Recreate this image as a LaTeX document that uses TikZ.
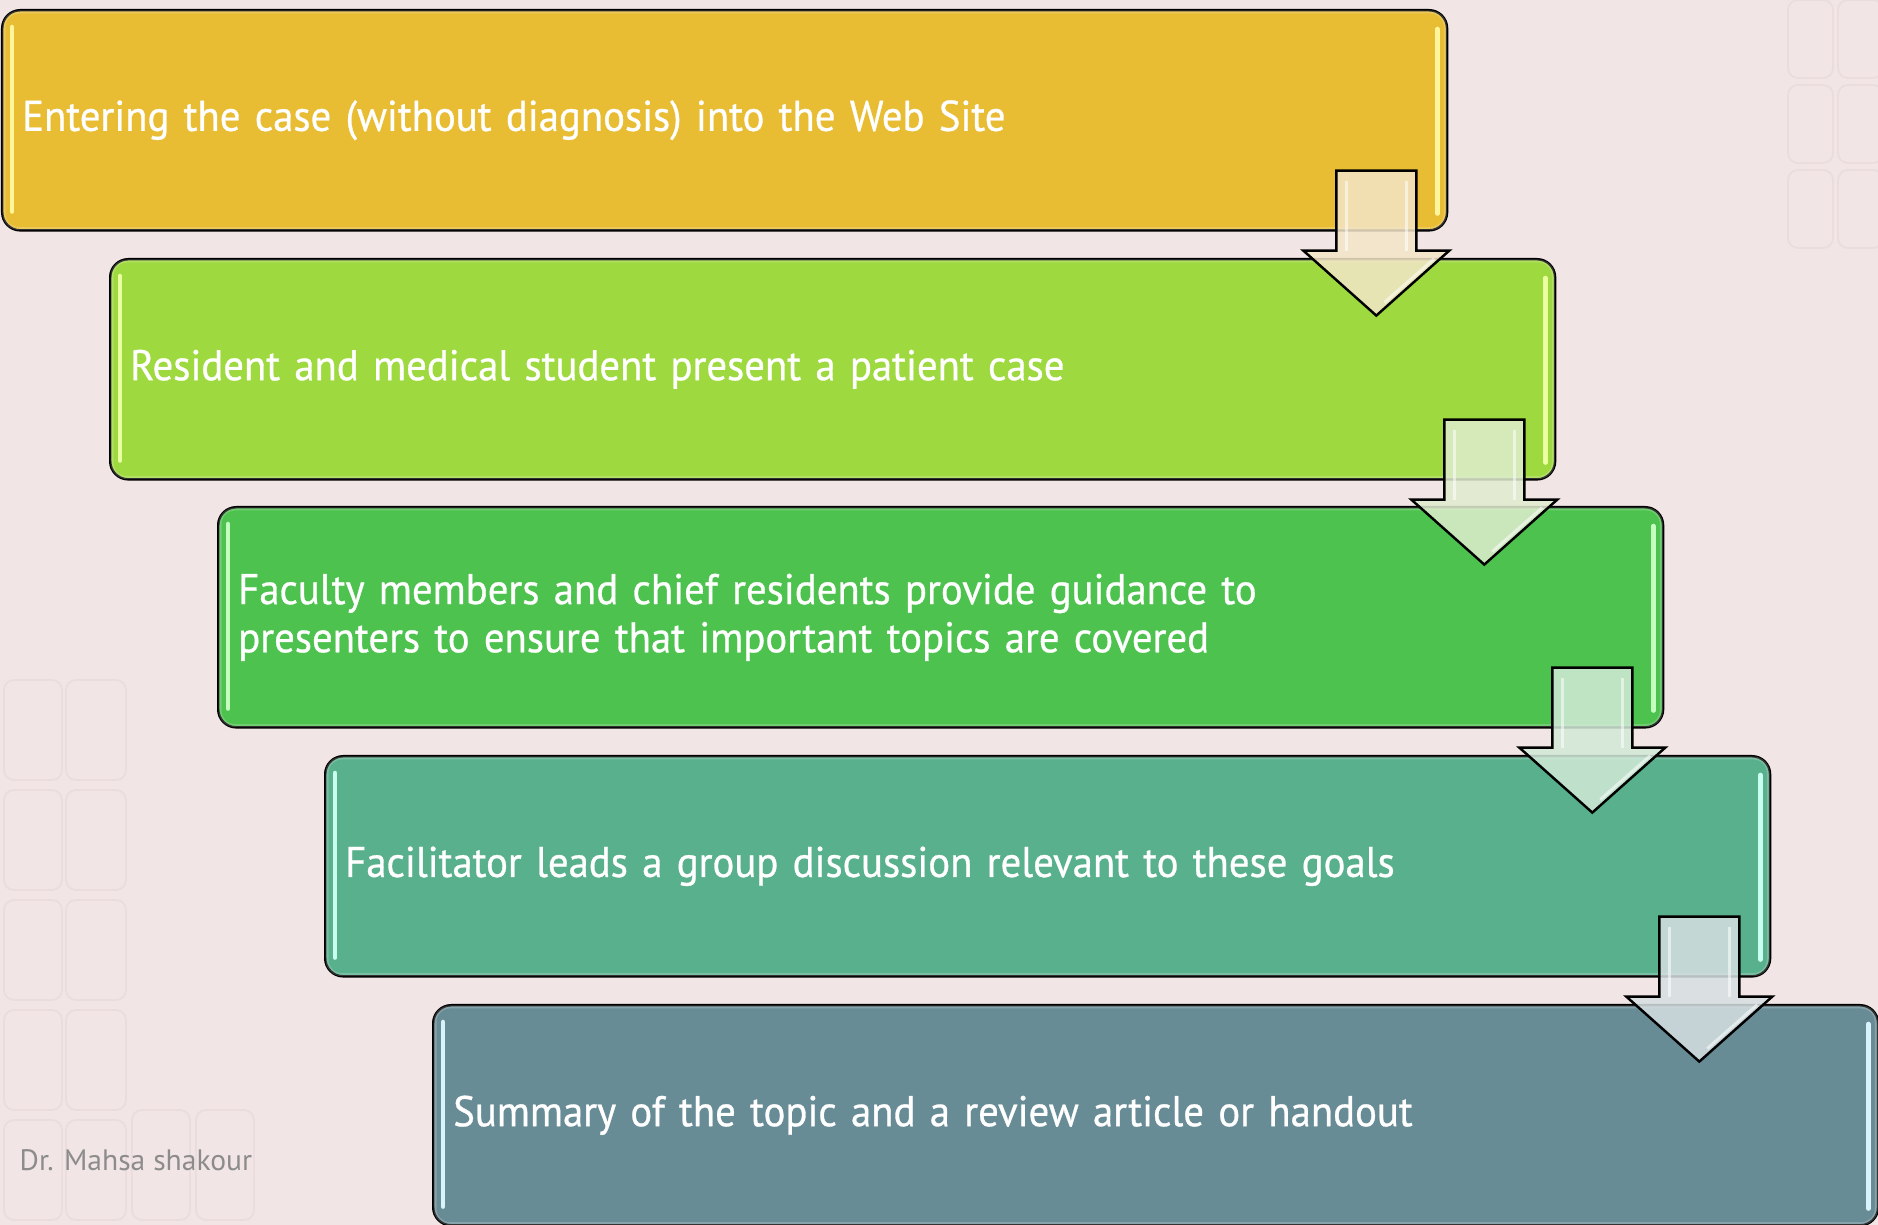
\documentclass[tikz,border=0pt]{standalone}
\usepackage{fontspec}
\setmainfont{PT Sans}
\newfontfamily\stepfont{PT Sans}[FakeStretch=0.95, FakeBold=0.7]
\usetikzlibrary{calc}

\definecolor{bg}{HTML}{F2E5E5}
\definecolor{tile}{HTML}{EBDDDD}
\definecolor{c1}{HTML}{E8BC33}
\definecolor{c2}{HTML}{9ED93F}
\definecolor{c3}{HTML}{4DC24E}
\definecolor{c4}{HTML}{58B08C}
\definecolor{c5}{HTML}{688C96}
\definecolor{h1}{HTML}{FFF59A}
\definecolor{h2}{HTML}{EAFFA0}
\definecolor{h3}{HTML}{C4FFC0}
\definecolor{h4}{HTML}{C8FFF0}
\definecolor{h5}{HTML}{D8F4FA}
\definecolor{t1}{HTML}{F4E6C8}
\definecolor{t2}{HTML}{E0EDCF}
\definecolor{t3}{HTML}{D2EAD8}
\definecolor{t4}{HTML}{D6E0E2}

\tikzset{
  stepbox/.style={draw=black, line width=0.7pt, rounded corners=0.18cm,
    anchor=north west, minimum width=14.44cm, minimum height=2.2cm,
    text width=14.04cm, inner xsep=0.2cm, align=left, text=white,
    font=\stepfont\fontsize{12.2}{13.7}\selectfont},
  shine/.style={line width=0.045cm, line cap=round},
  flowarrow/.style={draw=black, line width=0.7pt, line join=miter, fill opacity=0.85},
  bevel/.style={white, opacity=0.55, line width=0.03cm},
  bgtile/.style={draw=tile, line width=0.5pt, rounded corners=0.1cm}
}

\begin{document}
\begin{tikzpicture}[x=0.01cm, y=-0.01cm]
\useasboundingbox (0,0) rectangle (1878,1225);
\fill[bg] (0,0) rectangle (1878,1225);

% faint tiles in the corners
\foreach \yy in {680,790,900,1010,1120} {
  \draw[bgtile] (4,\yy) rectangle ++(58,100);
  \draw[bgtile] (66,\yy) rectangle ++(60,100);
}
\foreach \xx in {132,196} \draw[bgtile] (\xx,1110) rectangle ++(58,110);
\foreach \yy in {0,85,170} {
  \draw[bgtile] (1788,\yy) rectangle ++(45,78);
  \draw[bgtile] (1838,\yy) rectangle ++(45,78);
}

% the five steps
\node[stepbox, fill=c1] (b1) at (1,9) {Entering the case (without diagnosis) into the Web Site};
\node[stepbox, fill=c2] (b2) at (109,258) {Resident and medical student present a patient case};
\node[stepbox, fill=c3] (b3) at (217,506) {Faculty members and chief residents provide guidance to\\presenters to ensure that important topics are covered};
\node[stepbox, fill=c4] (b4) at (324,755) {Facilitator leads a group discussion relevant to these goals};
\node[stepbox, fill=c5] (b5) at (432,1004) {Summary of the topic and a review article or handout};

% glossy edges
\foreach \i in {1,...,5} {
  \draw[white, opacity=0.2, line width=0.03cm, rounded corners=0.15cm]
    ($(b\i.north west)+(3,3)$) rectangle ($(b\i.south east)+(-3,-3)$);
  \draw[shine, h\i] ($(b\i.north west)+(11,18)$) -- ($(b\i.south west)+(11,-20)$);
  \draw[shine, h\i] ($(b\i.north east)+(-11,20)$) -- ($(b\i.south east)+(-11,-18)$);
}

% arrows from one step to the next
\foreach \i in {1,...,4} {
  \coordinate (a\i) at ($(b\i.south east)+(-72,-61)$);
  \draw[flowarrow, fill=t\i] (a\i) ++(-40,0) -- ++(80,0) -- ++(0,80) -- ++(33,0)
    -- ++(-73,65) -- ++(-73,-65) -- ++(33,0) -- cycle;
  \draw[bevel] ($(a\i)+(-30,10)$) -- ($(a\i)+(-30,80)$);
  \draw[bevel] ($(a\i)+(30,10)$) -- ($(a\i)+(30,80)$);
  \draw[bevel] ($(a\i)+(58,88)$) -- ($(a\i)+(8,132)$);
}

\node[anchor=west, inner sep=0pt, text=black!45, font=\fontsize{8.4}{10}\selectfont] (sig) at (19,1160) {Dr. Mahsa shakour};
\end{tikzpicture}
\end{document}
